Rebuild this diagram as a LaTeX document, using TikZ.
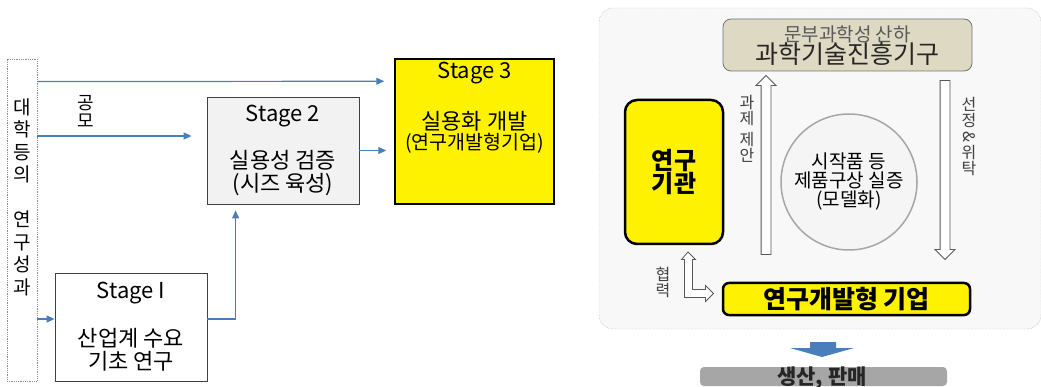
\documentclass[tikz,border=0pt]{standalone}
\usepackage{fontspec}
\setmainfont{Noto Sans CJK KR}
\usetikzlibrary{arrows.meta,shapes.arrows}
\definecolor{lineBlue}{HTML}{4A7EBB}
\definecolor{agencyTan}{HTML}{DDD9C3}
\definecolor{panelGray}{HTML}{F8F8F8}
\definecolor{salesGray}{HTML}{A6A6A6}
\begin{document}
\begin{tikzpicture}[x=1pt, y=-1pt,
    flowArrow/.style={draw=lineBlue, line width=1.2pt, -{Triangle[length=8pt,width=7pt]}},
    stageBox/.style={rectangle, draw=black!75, line width=0.8pt, align=center, font=\fontsize{22}{23}\selectfont},
    srcBox/.style={rectangle, draw=black!45, densely dotted, line width=0.8pt, fill=white, minimum width=30pt, minimum height=322pt},
    vText/.style={align=center, inner sep=0pt},
    hollowArrow/.style={single arrow, draw=black!65, fill=white, line width=0.8pt, inner sep=4.5pt, single arrow head extend=5pt},
    yellowBox/.style={rectangle, draw=black, line width=2.5pt, fill=yellow, align=center, font=\fontsize{24}{22}\selectfont\bfseries}]
    \useasboundingbox (0,0) rectangle (1041,387);

    \node[srcBox] (src) at (22,220) {};
    \node[vText, font=\fontsize{19}{22.5}\selectfont] (srcText) at (22,197) {대\\학\\등\\의\\[22.5pt]연\\구\\성\\과};
    \node[vText, font=\fontsize{18}{18}\selectfont] (callText) at (86,111) {공\\모};

    \node[stageBox, fill=black!5, minimum width=152pt, minimum height=107pt] (stage2) at (283,150.5) {Stage 2\\[23pt]실용성 검증\\(시즈 육성)};
    \node[stageBox, fill=white, minimum width=152pt, minimum height=108pt] (stage1) at (131,327) {Stage I\\[23pt]산업계 수요\\기초 연구};
    \node[stageBox, fill=yellow, draw=black, line width=1.5pt, minimum width=159pt, minimum height=145pt] (stage3) at (474.5,131.5) {};
    \node[vText, font=\fontsize{22}{23}\selectfont] (stage3Title) at (474.5,73) {Stage 3};
    \node[vText, font=\fontsize{22}{23}\selectfont] (stage3Main) at (474.5,121) {실용화 개발};
    \node[vText, font=\fontsize{19.5}{20}\selectfont] (stage3Sub) at (474.5,143) {(연구개발형기업)};

    \coordinate (callIn) at ([xshift=-15pt,yshift=14.5pt]stage2.west);
    \coordinate (seedIn) at ([yshift=8pt]stage1.west);
    \draw[flowArrow] ([yshift=-23pt]src.north east) -- ([xshift=-10pt,yshift=-23pt]stage3.north west);
    \draw[flowArrow] (src.east |- callIn) -- (callIn);
    \draw[flowArrow] (stage2.east) -- ([xshift=-8pt]stage3.west |- stage2.east);
    \draw[flowArrow] (src.east |- seedIn) -- (seedIn);
    \draw[flowArrow] (stage1.east |- seedIn) -| ([xshift=29pt,yshift=-6pt]stage2.south west);

    \node[rectangle, rounded corners=14pt, draw=black!40, densely dotted, fill=panelGray, minimum width=442pt, minimum height=321pt] (panel) at (820,168.5) {};
    \node[rectangle, rounded corners=8pt, draw=black!55, fill=agencyTan, line width=0.8pt, minimum width=249pt, minimum height=52pt] (agency) at (847.5,45) {};
    \node[vText, font=\fontsize{19}{19}\selectfont, text=black!65] (agencyNote) at (847.5,34) {문부과학성 산하};
    \node[vText, font=\fontsize{25}{25}\selectfont, text=black!85] (agencyName) at (847.5,54) {과학기술진흥기구};
    \node[yellowBox, rounded corners=12pt, minimum width=98pt, minimum height=144pt] (inst) at (674,172) {연구\\기관};
    \node[yellowBox, rounded corners=6pt, minimum width=247pt, minimum height=32pt, font=\fontsize{25}{25}\selectfont\bfseries] (company) at (846.5,299) {연구개발형 기업};
    \node[circle, draw=black!35, line width=1.5pt, fill=black!4, minimum size=136pt, align=center, font=\fontsize{19}{19}\selectfont] (model) at (849,182) {시작품 등\\제품구상 실증\\(모델화)};

    \node[hollowArrow, rotate=90, minimum height=179pt] (propose) at (766,167.5) {};
    \node[hollowArrow, rotate=-90, minimum height=179pt] (select) at (945,167.5) {};
    \node[vText, font=\fontsize{16}{15.5}\selectfont, text=black!75] (proposeText) at (747,129) {과\\제\\[6pt]제\\안};
    \node[vText, font=\fontsize{16}{16}\selectfont, text=black!75] (selectText) at (969,137) {선\\정\\\rotatebox[origin=c]{-90}{\&}\\위\\탁};

    \coordinate (coop) at (688,293);
    \draw[draw=black!65, fill=white, line width=0.8pt] (coop) ++(0,-41) -- ++(7.5,7.5) -- ++(-3,0) -- ++(0,30) -- ++(13,0) -- ++(0,-4) -- ++(8,8) -- ++(-8,8) -- ++(0,-4) -- ++(-21,0) -- ++(0,-38) -- ++(-3,0) -- cycle;
    \node[vText, font=\fontsize{16}{16}\selectfont, text=black!75] (coopText) at (663,282.5) {협\\력};

    \node[rectangle, rounded corners=4pt, fill=salesGray, minimum width=247pt, minimum height=19pt] (sales) at (823.5,376.5) {};
    \node[vText, font=\fontsize{21}{21}\selectfont\bfseries, text=black!85] (salesText) at (822,378) {생산, 판매};
    \fill[lineBlue] (810,342) -- (836,342) -- (836,348) -- (854,348) -- (822,357) -- (790,348) -- (810,348) -- cycle;
\end{tikzpicture}
\end{document}
